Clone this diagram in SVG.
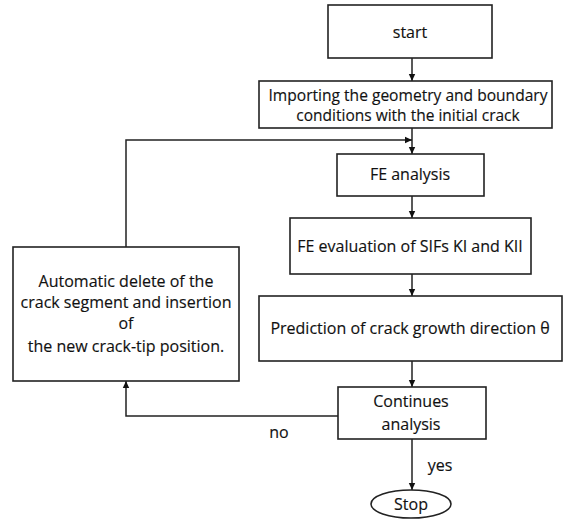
<svg xmlns="http://www.w3.org/2000/svg" width="564" height="522" viewBox="0 0 564 522">
<defs>
<marker id="arr" markerWidth="8" markerHeight="8" refX="7" refY="4" orient="auto" markerUnits="userSpaceOnUse">
<path d="M0,0.8 L7,4 L0,7.2 Z" fill="#111"/>
</marker>
<style>
.box{fill:#fff;stroke:#222;stroke-width:1.6}
.t{font-family:"Open Sans","Noto Sans",sans-serif;font-size:16px;fill:#111;text-anchor:middle;stroke:#111;stroke-width:0.15}
.s{font-size:15.5px}
.c{fill:none;stroke:#222;stroke-width:1.5}
</style>
</defs>
<rect width="564" height="522" fill="#fff"/>
<g id="connectors">
<path class="c" d="M412,58 V81" marker-end="url(#arr)"/>
<path class="c" d="M412,128 V154" marker-end="url(#arr)"/>
<path class="c" d="M126,247 V140 H412" marker-end="url(#arr)"/>
<path class="c" d="M412,196 V218" marker-end="url(#arr)"/>
<path class="c" d="M412,274 V296" marker-end="url(#arr)"/>
<path class="c" d="M412,361 V387" marker-end="url(#arr)"/>
<path class="c" d="M338,416 H126 V381" marker-end="url(#arr)"/>
<path class="c" d="M412,439 V490" marker-end="url(#arr)"/>
<text class="t" x="279" y="438">no</text>
<text class="t" x="440" y="471">yes</text>
</g>
<g id="start">
<rect class="box" x="328" y="5" width="164" height="53"/>
<text class="t" x="410" y="38">start</text>
</g>
<g id="import">
<rect class="box" x="259" y="81" width="293" height="47"/>
<text class="t s" x="408" y="101" textLength="279" lengthAdjust="spacingAndGlyphs">Importing the geometry and boundary</text>
<text class="t s" x="408" y="121">conditions with the initial crack</text>
</g>
<g id="fe">
<rect class="box" x="337" y="154" width="147" height="42"/>
<text class="t" x="410" y="180">FE analysis</text>
</g>
<g id="sif">
<rect class="box" x="290" y="218" width="241" height="56"/>
<text class="t" x="410" y="252">FE evaluation of SIFs KI and KII</text>
</g>
<g id="predict">
<rect class="box" x="259" y="296" width="303" height="65"/>
<text class="t" x="410" y="334">Prediction of crack growth direction θ</text>
</g>
<g id="continues">
<rect class="box" x="338" y="387" width="148" height="52"/>
<text class="t" x="411" y="407">Continues</text>
<text class="t" x="411" y="430">analysis</text>
</g>
<g id="auto">
<rect class="box" x="13" y="247" width="226" height="134"/>
<text class="t" x="126" y="287">Automatic delete of the</text>
<text class="t" x="126" y="308">crack segment and insertion</text>
<text class="t" x="126" y="329">of</text>
<text class="t" x="126" y="352">the new crack-tip position.</text>
</g>
<g id="stop">
<ellipse class="box" cx="411" cy="504" rx="40" ry="14"/>
<text class="t" x="411" y="510">Stop</text>
</g>
</svg>
